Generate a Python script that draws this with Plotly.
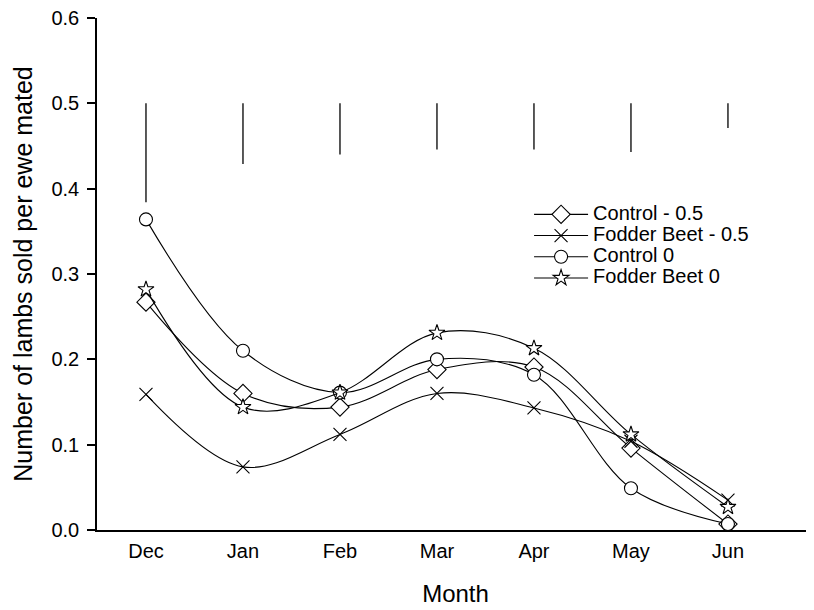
import plotly.graph_objects as go

months = ["Dec", "Jan", "Feb", "Mar", "Apr", "May", "Jun"]
control_m05 = [0.267, 0.160, 0.144, 0.188, 0.191, 0.096, 0.007]
fodder_m05 = [0.159, 0.074, 0.112, 0.160, 0.143, 0.104, 0.035]
control_0 = [0.364, 0.210, 0.161, 0.200, 0.182, 0.049, 0.007]
fodder_0 = [0.282, 0.144, 0.161, 0.231, 0.213, 0.112, 0.027]
sed_top = [0.5, 0.5, 0.5, 0.5, 0.5, 0.5, 0.5]
sed_bottom = [0.384, 0.429, 0.440, 0.446, 0.446, 0.443, 0.471]

series = [
    ("Control - 0.5", control_m05, "diamond", 14, "white"),
    ("Fodder Beet - 0.5", fodder_m05, "x-thin", 13, "black"),
    ("Control 0", control_0, "circle", 13, "white"),
    ("Fodder Beet 0", fodder_0, "star", 12, "white"),
]

fig = go.Figure()

fig.add_trace(go.Scatter(
    x=months, y=sed_top, mode="markers",
    marker=dict(size=0.1, color="rgba(0,0,0,0)"),
    error_y=dict(type="data", symmetric=False,
                 array=[0] * len(sed_top),
                 arrayminus=[t - b for t, b in zip(sed_top, sed_bottom)],
                 color="black", thickness=1.3, width=0),
    showlegend=False, hoverinfo="skip",
))

for name, vals, sym, size, fill in series:
    fig.add_trace(go.Scatter(
        x=months, y=vals,
        name="<span style='font-size:20px'>" + name + "</span>",
        mode="lines+markers",
        line=dict(color="black", width=1.1, shape="spline", smoothing=1),
        marker=dict(symbol=sym, size=size, color=fill,
                    line=dict(color="black", width=1.1)),
    ))

fig.update_layout(
    width=814, height=610,
    margin=dict(l=89, r=8, t=10, b=88),
    paper_bgcolor="white", plot_bgcolor="white",
    font=dict(family="Liberation Sans, Arial, sans-serif", color="black", size=20),
    legend=dict(x=0.6026, y=0.647, xanchor="left", yanchor="top",
                bgcolor="rgba(0,0,0,0)", font=dict(size=14),
                tracegroupgap=0, itemwidth=54),
    showlegend=True,
)

fig.update_xaxes(
    type="category", range=[-0.505, 6.887],
    showline=True, linecolor="black", linewidth=1.5,
    ticks="", showgrid=False, zeroline=False,
    tickfont=dict(size=20), ticklabelstandoff=2,
    title=dict(text="Month", font=dict(size=24), standoff=24),
)
fig.update_yaxes(
    range=[0, 0.6], tickvals=[0, 0.1, 0.2, 0.3, 0.4, 0.5, 0.6],
    tickformat=".1f", ticklabeloverflow="allow", automargin=False,
    showline=True, linecolor="black", linewidth=1.5,
    ticks="outside", ticklen=8, tickwidth=1.5, tickcolor="black",
    showgrid=False, zeroline=False,
    tickfont=dict(size=20), ticklabelstandoff=4,
    title=dict(text="Number of lambs sold per ewe mated", font=dict(size=25), standoff=12),
)

fig.write_html("out.html")
